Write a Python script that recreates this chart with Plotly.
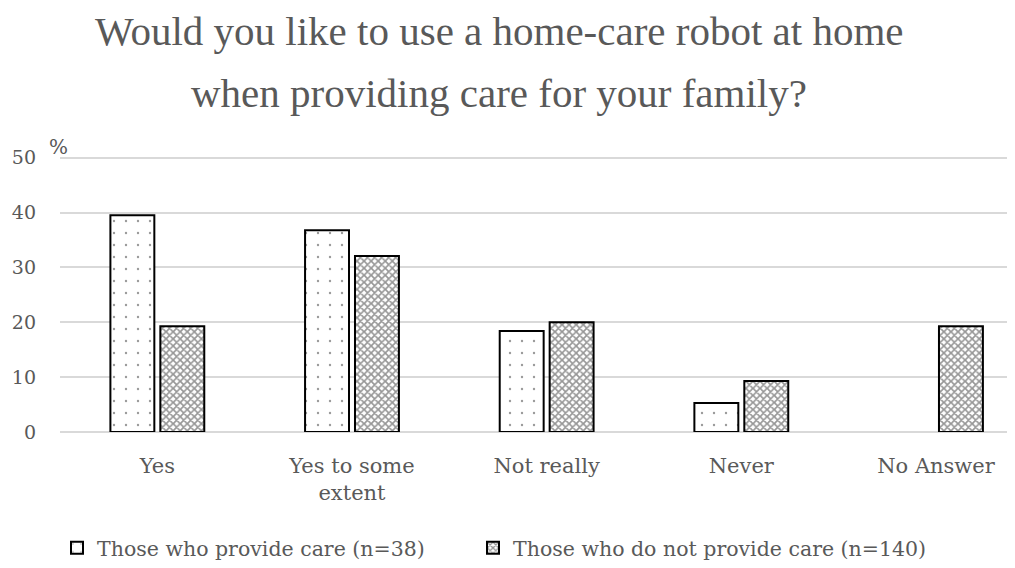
import plotly.graph_objects as go

categories = ["Yes", "Yes to some<br>extent", "Not really", "Never", "No Answer"]
provide_care = [39.5, 36.8, 18.4, 5.3, None]
no_provide_care = [19.3, 32.1, 20.0, 9.3, 19.3]
series_names = ["Those who provide care (n=38)", "Those who do not provide care (n=140)"]
y_ticks = [0, 10, 20, 30, 40, 50]

TXT = "#595959"
SERIF = "Liberation Serif, DejaVu Serif, serif"
WIDE = "DejaVu Serif, serif"

W, H = 1007, 560
L, R, T, B = 52, 7, 147, 136
PH = H - T - B
PW = W - L - R

fig = go.Figure()
fig.add_trace(go.Bar(
    x=categories, y=provide_care, name=series_names[0], legend="legend",
    marker=dict(color="white", line=dict(color="black", width=2),
                pattern=dict(shape=".", size=12, solidity=0.03, fgcolor="#333333", bgcolor="white")),
))
fig.add_trace(go.Bar(
    x=categories, y=no_provide_care, name=series_names[1], legend="legend2",
    marker=dict(color="white", line=dict(color="black", width=2),
                pattern=dict(shape="x", size=5, solidity=0.55, fgcolor="#2e2e2e", bgcolor="white")),
))

leg_common = dict(orientation="h", yanchor="middle", xanchor="left", xref="container", yref="container",
                  font=dict(size=20.5, color=TXT, family=WIDE), itemwidth=30,
                  bgcolor="rgba(0,0,0,0)")

fig.update_layout(
    width=W, height=H,
    margin=dict(l=L, r=R, t=T, b=B, autoexpand=False),
    plot_bgcolor="white", paper_bgcolor="white",
    barmode="group", bargap=0.487, bargroupgap=0.12,
    font=dict(family=SERIF, color=TXT, size=19),
    showlegend=True,
    legend=dict(x=49 / W, y=1 - 540 / H, **leg_common),
    legend2=dict(x=465 / W, y=1 - 540 / H, **leg_common),
    xaxis=dict(range=[-0.5, 4.37], showgrid=False, showline=False, ticks="",
               tickfont=dict(family=WIDE, size=21, color=TXT),
               ticklabelstandoff=19),
    yaxis=dict(range=[0, 50.5], tickvals=y_ticks, showgrid=True, gridcolor="#d9d9d9", gridwidth=1.5,
               zeroline=True, zerolinecolor="#d9d9d9", zerolinewidth=1.5, showline=False,
               tickfont=dict(family=WIDE, size=19, color=TXT),
               ticklabelstandoff=23),
    annotations=[
        dict(text="Would you like to use a home-care robot at home", xref="paper", yref="paper",
             x=(491 - L) / PW, y=1.0 + (T - 23) / PH, xanchor="center", yanchor="middle", showarrow=False,
             font=dict(size=41, color=TXT, family=SERIF)),
        dict(text="when providing care for your family?", xref="paper", yref="paper",
             x=(491 - L) / PW, y=1.0 + (T - 85) / PH, xanchor="center", yanchor="middle", showarrow=False,
             font=dict(size=41, color=TXT, family=SERIF)),
        dict(text="%", xref="paper", yref="paper", x=(50 - L) / PW, y=1.0 + (T - 139) / PH,
             xanchor="center", yanchor="middle", showarrow=False,
             font=dict(size=20, color=TXT, family=WIDE)),
    ],
)

fig.write_html("out.html")
